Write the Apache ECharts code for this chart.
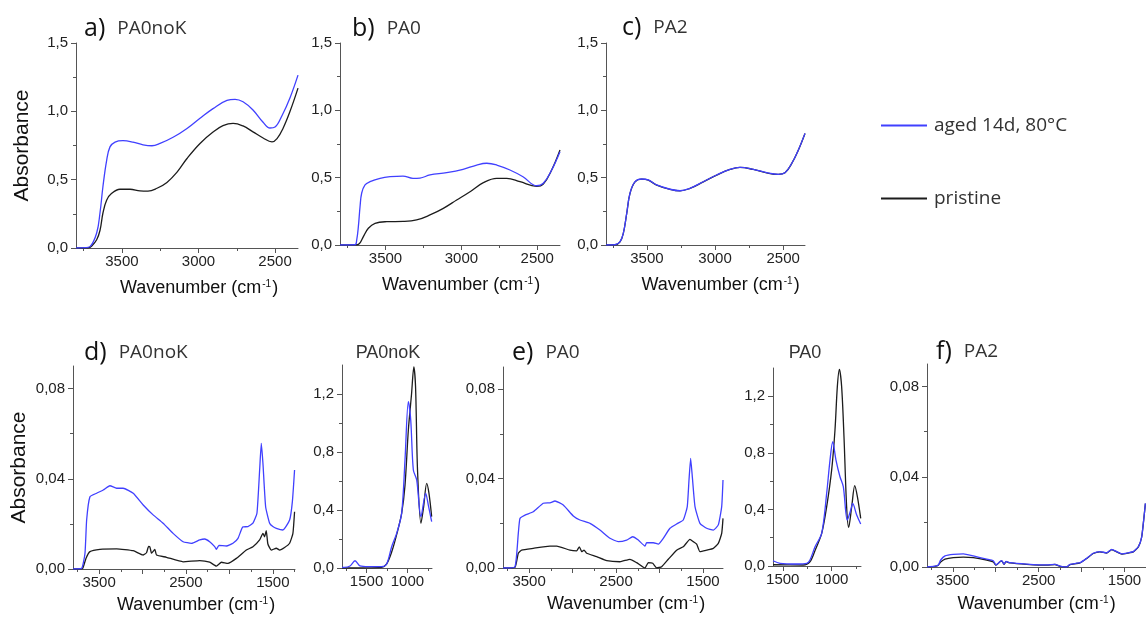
<!DOCTYPE html>
<html>
<head>
<meta charset="utf-8">
<script src="https://cdn.jsdelivr.net/npm/echarts@6/dist/echarts.min.js"></script>
<style>
  html, body { margin: 0; padding: 0; background: #fff; }
  #chart { width: 1146px; height: 624px; }
</style>
</head>
<body>
<div id="chart"></div>
<script>
var AGED = 'aged 14d, 80°C';
var PRISTINE = 'pristine';

// top row: OH region, [wavenumber, absorbance]
var aAged = [[3800,0],[3741,0.002],[3709,0.01],[3665,0.11],[3643,0.26],[3624,0.45],[3600,0.64],[3578,0.74],[3545,0.775],[3493,0.785],[3428,0.775],[3362,0.755],[3304,0.748],[3251,0.765],[3166,0.81],[3075,0.875],[2990,0.95],[2905,1.02],[2814,1.08],[2761,1.088],[2709,1.07],[2644,1.01],[2578,0.92],[2533,0.878],[2500,0.885],[2454,0.97],[2402,1.10],[2350,1.265]];
var aPristine = [[3800,0],[3720,0.002],[3697,0.015],[3665,0.06],[3643,0.13],[3624,0.256],[3600,0.35],[3567,0.40],[3513,0.43],[3447,0.43],[3382,0.418],[3330,0.416],[3271,0.437],[3206,0.48],[3140,0.555],[3075,0.655],[2990,0.765],[2905,0.848],[2840,0.895],[2774,0.912],[2709,0.893],[2644,0.85],[2578,0.805],[2520,0.776],[2487,0.80],[2448,0.875],[2402,1.0],[2350,1.17]];
var bAged = [[3800,0],[3701,0.002],[3690,0.037],[3679,0.136],[3668,0.284],[3657,0.386],[3635,0.446],[3602,0.47],[3536,0.495],[3470,0.507],[3385,0.512],[3319,0.495],[3273,0.497],[3207,0.52],[3097,0.537],[2989,0.562],[2899,0.594],[2833,0.607],[2767,0.594],[2680,0.557],[2594,0.507],[2504,0.44],[2460,0.458],[2405,0.557],[2350,0.693]];
var bPristine = [[3800,0],[3685,0.002],[3668,0.015],[3646,0.062],[3613,0.124],[3569,0.161],[3492,0.173],[3383,0.175],[3295,0.186],[3207,0.223],[3119,0.272],[3031,0.334],[2943,0.396],[2855,0.463],[2767,0.495],[2701,0.495],[2614,0.47],[2504,0.436],[2460,0.453],[2405,0.557],[2350,0.705]];
var cAged = [[3800,0],[3734,0.002],[3697,0.025],[3673,0.087],[3648,0.235],[3624,0.384],[3587,0.47],[3538,0.49],[3490,0.483],[3428,0.446],[3330,0.414],[3257,0.403],[3184,0.421],[3086,0.47],[2988,0.52],[2890,0.562],[2817,0.577],[2719,0.562],[2621,0.537],[2536,0.525],[2487,0.537],[2437,0.607],[2389,0.705],[2340,0.829]];
var cPristine = [[3800,0],[3734,0.002],[3697,0.024],[3673,0.086],[3648,0.234],[3624,0.383],[3587,0.469],[3538,0.489],[3490,0.482],[3428,0.445],[3330,0.413],[3257,0.402],[3184,0.42],[3086,0.469],[2988,0.519],[2890,0.561],[2817,0.576],[2719,0.561],[2621,0.536],[2536,0.524],[2487,0.536],[2437,0.606],[2389,0.704],[2340,0.828]];

// bottom row: full range
var dAged = [[3800,0],[3700,0.0003],[3662,0.007],[3643,0.0217],[3605,0.032],[3528,0.0336],[3452,0.035],[3375,0.0369],[3298,0.0358],[3222,0.0358],[3107,0.0336],[2992,0.0284],[2878,0.024],[2763,0.0203],[2648,0.0158],[2533,0.0121],[2437,0.0114],[2341,0.0129],[2284,0.0133],[2227,0.0121],[2169,0.0099],[2150,0.0087],[2120,0.0105],[2035,0.0102],[1959,0.0114],[1901,0.0136],[1847,0.0186],[1787,0.0188],[1729,0.0203],[1683,0.0247],[1652,0.0439],[1633,0.0557],[1614,0.0469],[1583,0.0276],[1537,0.0203],[1500,0.0188],[1460,0.018],[1384,0.0173],[1307,0.0217],[1275,0.03],[1250,0.0439]];
var dPristine = [[3800,0],[3750,0],[3689,0.0003],[3651,0.0047],[3605,0.0077],[3490,0.0087],[3298,0.0089],[3107,0.0081],[2992,0.0062],[2954,0.0072],[2930,0.0100],[2915,0.0098],[2896,0.007],[2858,0.0087],[2839,0.0062],[2724,0.0052],[2533,0.0032],[2341,0.0037],[2227,0.003],[2150,0.0013],[2092,0.003],[2016,0.0025],[1920,0.0047],[1805,0.0084],[1729,0.0099],[1652,0.0129],[1614,0.0158],[1595,0.0143],[1576,0.017],[1557,0.0111],[1518,0.0084],[1460,0.0092],[1422,0.0084],[1365,0.0095],[1307,0.0114],[1269,0.0158],[1250,0.0254]];
var eAged = [[3800,0],[3777,0],[3662,0.0006],[3624,0.0155],[3605,0.0222],[3547,0.0237],[3452,0.0252],[3337,0.029],[3260,0.0292],[3202,0.03],[3107,0.0282],[2992,0.0233],[2915,0.0215],[2800,0.02],[2685,0.017],[2570,0.0133],[2474,0.0118],[2378,0.0125],[2309,0.014],[2244,0.0125],[2167,0.0098],[2148,0.0113],[2071,0.0113],[2014,0.0107],[1957,0.0133],[1880,0.0178],[1803,0.0197],[1727,0.0215],[1681,0.0275],[1661,0.0394],[1642,0.0491],[1623,0.0409],[1592,0.0275],[1535,0.02],[1458,0.0178],[1381,0.017],[1324,0.0193],[1285,0.0275],[1270,0.0394]];
var ePristine = [[3800,0],[3770,0],[3662,0.0003],[3624,0.0066],[3585,0.008],[3452,0.0088],[3260,0.0098],[3182,0.0098],[3030,0.008],[2953,0.0077],[2922,0.0095],[2895,0.0073],[2868,0.008],[2838,0.0066],[2723,0.0051],[2607,0.0033],[2455,0.0028],[2340,0.0039],[2263,0.0024],[2167,0],[2129,0.0024],[2078,0.0021],[2032,0],[1975,0.0006],[1899,0.0039],[1803,0.008],[1727,0.0095],[1650,0.0128],[1612,0.0118],[1573,0.0107],[1535,0.0073],[1458,0.008],[1381,0.0088],[1324,0.011],[1285,0.0155],[1270,0.0222]];
var fAged = [[3800,0],[3707,0.0004],[3668,0.0009],[3641,0.0031],[3590,0.0049],[3494,0.0056],[3377,0.0058],[3261,0.0049],[3105,0.0035],[3028,0.0028],[2997,0.0009],[2950,0.0024],[2930,0.0028],[2903,0.0013],[2880,0.0025],[2834,0.0019],[2640,0.0013],[2406,0.0009],[2310,0.0012],[2251,0.0004],[2174,0],[2135,0.0012],[2018,0.0019],[1940,0.0039],[1864,0.0061],[1786,0.0068],[1708,0.0063],[1649,0.0078],[1591,0.0068],[1533,0.0058],[1456,0.0063],[1397,0.0068],[1339,0.009],[1300,0.0134],[1273,0.0223],[1257,0.0282]];
var fPristine = [[3800,0],[3707,0.0003],[3668,0.0008],[3641,0.0022],[3590,0.0035],[3494,0.0042],[3377,0.0044],[3261,0.0042],[3105,0.0031],[3028,0.0022],[2997,0.0008],[2950,0.0023],[2930,0.0027],[2903,0.0012],[2880,0.0024],[2834,0.0018],[2640,0.0012],[2406,0.0008],[2310,0.0011],[2251,0.0003],[2174,0],[2135,0.0011],[2018,0.0018],[1940,0.0038],[1864,0.006],[1786,0.0067],[1708,0.0062],[1649,0.0077],[1591,0.0067],[1533,0.0057],[1456,0.0062],[1397,0.0067],[1339,0.0089],[1300,0.0133],[1273,0.0222],[1257,0.0281]];

// insets: fingerprint region
var dFpAged = [[1800,0.005],[1772,0.005],[1702,0.014],[1641,0.05],[1580,0.014],[1478,0.009],[1315,0.009],[1254,0.028],[1193,0.147],[1132,0.239],[1071,0.377],[1030,0.745],[989,1.147],[960,1.02],[928,0.676],[887,0.607],[835,0.354],[777,0.515],[745,0.434],[704,0.319]];
var dFpPristine = [[1800,0],[1772,0],[1315,0.005],[1254,0.028],[1193,0.11],[1132,0.23],[1071,0.377],[1030,0.57],[989,0.952],[950,1.2],[922,1.387],[901,1.25],[877,0.676],[835,0.308],[802,0.423],[765,0.584],[737,0.515],[704,0.354]];
var eFpAged = [[1600,0.037],[1528,0.019],[1358,0.014],[1255,0.019],[1222,0.042],[1170,0.136],[1102,0.231],[1051,0.514],[1017,0.749],[989,0.879],[956,0.749],[915,0.631],[881,0.561],[840,0.325],[805,0.396],[785,0.443],[744,0.36],[703,0.297]];
var eFpPristine = [[1600,0.009],[1290,0.007],[1222,0.03],[1170,0.11],[1102,0.231],[1051,0.42],[1000,0.68],[966,0.962],[942,1.268],[921,1.39],[898,1.268],[874,0.914],[847,0.419],[826,0.273],[795,0.419],[764,0.568],[737,0.49],[703,0.337]];

// ticks
var ohLabels = [3500, 3000, 2500];
var ohMinor = [3750, 3250, 2750];
var ohAbsLabels = [0, 0.5, 1.0, 1.5];
var ohAbsMinor = [0.25, 0.75, 1.25];
var fullLabels = [3500, 2500, 1500];
var fullTicks = [3500, 3000, 2500, 2000, 1500];
var fullMinor = [3750, 3250, 2750, 2250, 1750, 1250];
var lowAbsLabels = [0, 0.04, 0.08];
var lowAbsMinor = [0.02, 0.06];
var fpLabels = [1500, 1000];
var fpMinor = [1750, 1250, 750];
var fpAbsLabels = [0, 0.4, 0.8, 1.2];
var fpAbsMinor = [0.2, 0.6, 1.0];

var BLUE = '#4040ff';
var BLACK = '#1c1c1c';
var AXIS = '#555';
var LABEL_FONT = 'Liberation Sans';
var TITLE_FONT = 'Open Sans';

var grids = [], xAxes = [], yAxes = [], series = [], titles = [], graphics = [];

function comma(d) {
    return function (v) { return v.toFixed(d).replace('.', ','); };
}

function inRange(list, lo, hi) {
    return list.filter(function (v) { return v >= lo && v <= hi; });
}

function addPanel(p) {
    var gi = grids.length;
    grids.push({ left: p.box[0], top: p.box[1], width: p.box[2], height: p.box[3] });

    var xLo = p.x[0], xHi = p.x[1];
    var xMain = {
        gridIndex: gi, type: 'value', inverse: true, min: xLo, max: xHi, position: 'bottom',
        axisLine: { onZero: false, lineStyle: { color: AXIS, width: 1 } },
        axisTick: { customValues: inRange(p.xTicks, xLo, xHi), length: 5, lineStyle: { color: AXIS } },
        axisLabel: {
            customValues: p.xLabels, formatter: function (v) { return String(v); },
            fontSize: 15, fontFamily: LABEL_FONT, color: '#222', margin: 6
        },
        splitLine: { show: false }
    };
    if (p.xName) {
        xMain.name = '{t|Wavenumber (cm}{s|-1}{t|)}';
        xMain.nameLocation = 'middle';
        xMain.nameGap = p.xNameGap;
        xMain.nameTextStyle = {
            padding: [0, 0, 0, p.xNameShift * 2],
            rich: {
                t: { fontSize: 18, fontFamily: LABEL_FONT, color: '#111' },
                s: { fontSize: 10, fontFamily: LABEL_FONT, color: '#111', verticalAlign: 'top', padding: [0, 1, 0, 1] }
            }
        };
    }
    xAxes.push(xMain);
    xAxes.push({
        gridIndex: gi, type: 'value', inverse: true, min: xLo, max: xHi, position: 'bottom',
        axisLine: { show: false },
        axisTick: { customValues: inRange(p.xMinor, xLo, xHi), length: 3, lineStyle: { color: AXIS } },
        axisLabel: { show: false },
        splitLine: { show: false }
    });

    var yMain = {
        gridIndex: gi, type: 'value', min: p.y[0], max: p.y[1], position: 'left',
        axisLine: { show: true, onZero: false, lineStyle: { color: AXIS, width: 1 } },
        axisTick: { show: true, customValues: p.yLabels, length: 5, lineStyle: { color: AXIS } },
        axisLabel: { customValues: p.yLabels, formatter: comma(p.yDec), fontSize: 15, fontFamily: LABEL_FONT, color: '#222', margin: 8 },
        splitLine: { show: false }
    };
    if (p.yName) {
        yMain.name = 'Absorbance';
        yMain.nameLocation = 'middle';
        yMain.nameGap = p.yNameGap;
        yMain.nameTextStyle = { fontSize: 21, fontFamily: LABEL_FONT, color: '#111' };
    }
    yAxes.push(yMain);
    yAxes.push({
        gridIndex: gi, type: 'value', min: p.y[0], max: p.y[1], position: 'left',
        axisLine: { show: false },
        axisTick: { show: true, customValues: p.yMinor, length: 3, lineStyle: { color: AXIS } },
        axisLabel: { show: false },
        splitLine: { show: false }
    });

    [[PRISTINE, p.pristine, BLACK], [AGED, p.aged, BLUE]].forEach(function (s) {
        series.push({
            name: s[0], type: 'line', xAxisIndex: gi * 2, yAxisIndex: gi * 2,
            data: s[1], showSymbol: false, smooth: p.smooth,
            lineStyle: { color: s[2], width: 1.3 }, itemStyle: { color: s[2] },
            animation: false
        });
    });

    if (p.letter) {
        titles.push({
            text: '{l|' + p.letter + '}{n|' + p.title + '}',
            left: p.titlePos[0], top: p.titlePos[1], padding: 0,
            textStyle: {
                fontWeight: 'normal',
                rich: {
                    l: { fontSize: 25, fontFamily: TITLE_FONT, fontWeight: 'normal', color: '#111' },
                    n: { fontSize: 19, fontFamily: TITLE_FONT, fontWeight: 'normal', color: '#333', padding: [0, 0, 0, 12] }
                }
            }
        });
    } else {
        graphics.push({
            type: 'text', x: p.titlePos[0], y: p.titlePos[1],
            style: { text: p.title, align: 'center', verticalAlign: 'middle', fontSize: 18, fontWeight: 'normal', fontFamily: LABEL_FONT, fill: '#333' }
        });
    }
}

var ohBase = { x: [2350, 3800], xTicks: ohLabels, xLabels: ohLabels, xMinor: ohMinor, y: [0, 1.5], yLabels: ohAbsLabels, yMinor: ohAbsMinor, yDec: 1, smooth: 0.4 };
var fullBase = { x: [1250, 3800], xTicks: fullTicks, xLabels: fullLabels, xMinor: fullMinor, y: [0, 0.09], yLabels: lowAbsLabels, yMinor: lowAbsMinor, yDec: 2, smooth: 0.15 };
var fpBase = { xTicks: fpLabels, xLabels: fpLabels, xMinor: fpMinor, y: [0, 1.4], yLabels: fpAbsLabels, yMinor: fpAbsMinor, yDec: 1, smooth: 0.3 };

function extend(base, extra) {
    var o = {};
    Object.keys(base).forEach(function (k) { o[k] = base[k]; });
    Object.keys(extra).forEach(function (k) { o[k] = extra[k]; });
    return o;
}

addPanel(extend(ohBase, { box: [76, 43, 222, 205], aged: aAged, pristine: aPristine, letter: 'a)', title: 'PA0noK', titlePos: [84, 16], xName: true, xNameGap: 31, xNameShift: 12, yName: true, yNameGap: 43 }));
addPanel(extend(ohBase, { box: [340, 43, 220, 202], aged: bAged, pristine: bPristine, letter: 'b)', title: 'PA0', titlePos: [352, 16], xName: true, xNameGap: 31, xNameShift: 11 }));
addPanel(extend(ohBase, { box: [606, 43, 199, 202], x: [2340, 3800], aged: cAged, pristine: cPristine, letter: 'c)', title: 'PA2', titlePos: [622, 15], xName: true, xNameGap: 31, xNameShift: 15 }));
addPanel(extend(fullBase, { box: [73, 366, 222, 203], x: [1245, 3800], aged: dAged, pristine: dPristine, letter: 'd)', title: 'PA0noK', titlePos: [84, 340], xName: true, xNameGap: 27, xNameShift: 12, yName: true, yNameGap: 43 }));
addPanel(extend(fpBase, { box: [342, 365, 90, 203], x: [700, 1800], aged: dFpAged, pristine: dFpPristine, title: 'PA0noK', titlePos: [388, 353] }));
addPanel(extend(fullBase, { box: [503, 367, 220, 201], x: [1270, 3800], aged: eAged, pristine: ePristine, letter: 'e)', title: 'PA0', titlePos: [512, 340], xName: true, xNameGap: 27, xNameShift: 13 }));
addPanel(extend(fpBase, { box: [773, 368, 88, 198], x: [700, 1600], aged: eFpAged, pristine: eFpPristine, title: 'PA0', titlePos: [805, 353] }));
addPanel(extend(fullBase, { box: [927, 364, 219, 203], aged: fAged, pristine: fPristine, letter: 'f)', title: 'PA2', titlePos: [936, 339], xName: true, xNameGap: 28, xNameShift: 0 }));

var chart = echarts.init(document.getElementById('chart'), null, { renderer: 'canvas' });
chart.setOption({
    backgroundColor: '#fff',
    animation: false,
    title: titles,
    legend: {
        data: [AGED, PRISTINE],
        orient: 'vertical',
        left: 876, top: 111,
        icon: 'rect', itemWidth: 46, itemHeight: 2, itemGap: 54,
        textStyle: { fontSize: 19, fontFamily: TITLE_FONT, color: '#333', padding: [0, 0, 0, 2] }
    },
    grid: grids,
    xAxis: xAxes,
    yAxis: yAxes,
    series: series,
    graphic: graphics
});
</script>
</body>
</html>
